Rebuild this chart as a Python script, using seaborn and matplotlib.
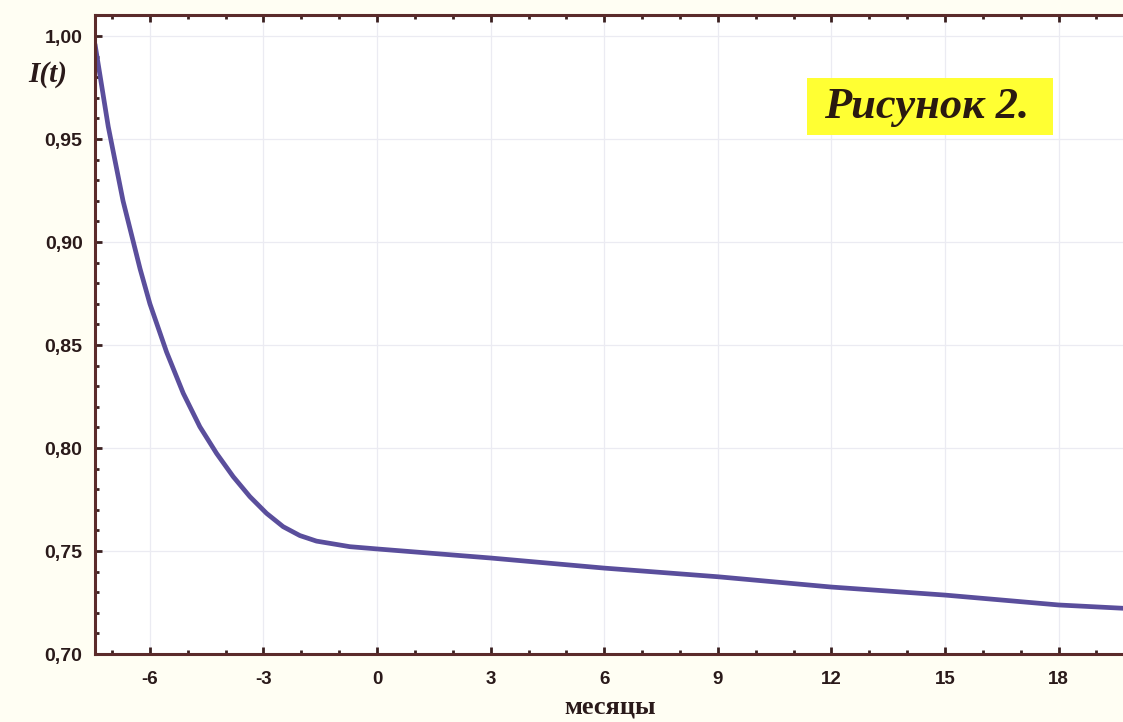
import numpy as np
import pandas as pd
import seaborn as sns
import matplotlib.pyplot as plt
from matplotlib.ticker import MultipleLocator, FuncFormatter
from matplotlib.patches import Rectangle

# ---- data ----
months = [-7.45, -7.10, -6.71, -6.26, -6.00, -5.56, -5.12, -4.68, -4.24,
          -3.80, -3.36, -2.92, -2.48, -2.04, -1.60, -0.72, 0.0, 3.0, 6.0,
          9.0, 12.0, 15.0, 18.0, 19.7]
i_values = [0.996, 0.956, 0.920, 0.887, 0.870, 0.8466, 0.8266, 0.8103, 0.7974,
            0.7861, 0.7764, 0.7683, 0.7618, 0.7575, 0.7548, 0.7521, 0.7510, 0.7466, 0.7417,
            0.7375, 0.7325, 0.7286, 0.7238, 0.7222]
x_ticks = [-6, -3, 0, 3, 6, 9, 12, 15, 18]
y_ticks = [0.70, 0.75, 0.80, 0.85, 0.90, 0.95, 1.00]
x_label = "месяцы"
y_label = "I(t)"
title_text = "Рисунок 2."

df = pd.DataFrame({"t": months, "I": i_values})

sns.set_theme(style="white")
plt.rcParams['font.family'] = ['Liberation Sans', 'DejaVu Sans']

W, H = 1123, 722
fig = plt.figure(figsize=(W / 100, H / 100), dpi=100, facecolor='#fffef3')
ax = fig.add_axes([95 / W, 1 - 654 / H, 1 - 95 / W, (654 - 15) / H])
ax.set_facecolor('white')

sns.lineplot(data=df, x="t", y="I", ax=ax, color='#5a4e9c', lw=3.4)

ax.set_xlim(-7.45, 19.7)
ax.set_ylim(0.70, 1.0102)
ax.set_xticks(x_ticks)
ax.set_yticks(y_ticks)
ax.xaxis.set_minor_locator(MultipleLocator(1))
ax.yaxis.set_minor_locator(MultipleLocator(0.01))
ax.xaxis.set_major_formatter(FuncFormatter(lambda v, _: f"{v:.0f}".replace('\u2212', '-')))
ax.yaxis.set_major_formatter(FuncFormatter(lambda v, _: f"{v:.2f}".replace('.', ',')))

spine_c = '#5b2b2b'
for s in ['left', 'bottom', 'top']:
    ax.spines[s].set_visible(True)
    ax.spines[s].set_color(spine_c)
    ax.spines[s].set_linewidth(2.2)
ax.spines['right'].set_visible(False)

ax.tick_params(which='both', direction='in', top=True, bottom=True, left=True,
               right=False, color='#3a2020', width=2)
ax.tick_params(which='major', length=5)
ax.tick_params(which='minor', length=3)
ax.tick_params(axis='y', which='major', pad=9, labelsize=14, labelcolor='#2a1a1a')
ax.tick_params(axis='x', which='major', pad=12, labelsize=13.5, labelcolor='#2a1a1a')
for lab in ax.get_xticklabels() + ax.get_yticklabels():
    lab.set_fontweight('bold')

ax.grid(True, which='major', color='#ebebf2', lw=0.9)
ax.set_xlabel("")
ax.set_ylabel("")

# yellow caption box
ax.add_patch(Rectangle((0.6926, 0.8122), 0.2393, 0.0892, transform=ax.transAxes,
                       facecolor='#ffff33', edgecolor='none', zorder=3))
ax.text(0.8093, 0.856, title_text, transform=ax.transAxes, ha='center', va='center',
        fontsize=32, fontweight='bold', fontstyle='italic', color='#2a1a10',
        family=['Liberation Serif', 'DejaVu Serif'], zorder=4)

fig.text(48 / W, 1 - 75 / H, y_label, ha='center', va='center', fontsize=21,
         fontweight='bold', fontstyle='italic', color='#2a1a1a',
         family=['Liberation Serif', 'DejaVu Serif'])
fig.text(610 / W, 4 / H, x_label, ha='center', va='bottom', fontsize=19,
         fontweight='bold', color='#2a1a1a',
         family=['Liberation Serif', 'DejaVu Serif'])

fig.savefig('out.png', dpi=100, facecolor=fig.get_facecolor())
